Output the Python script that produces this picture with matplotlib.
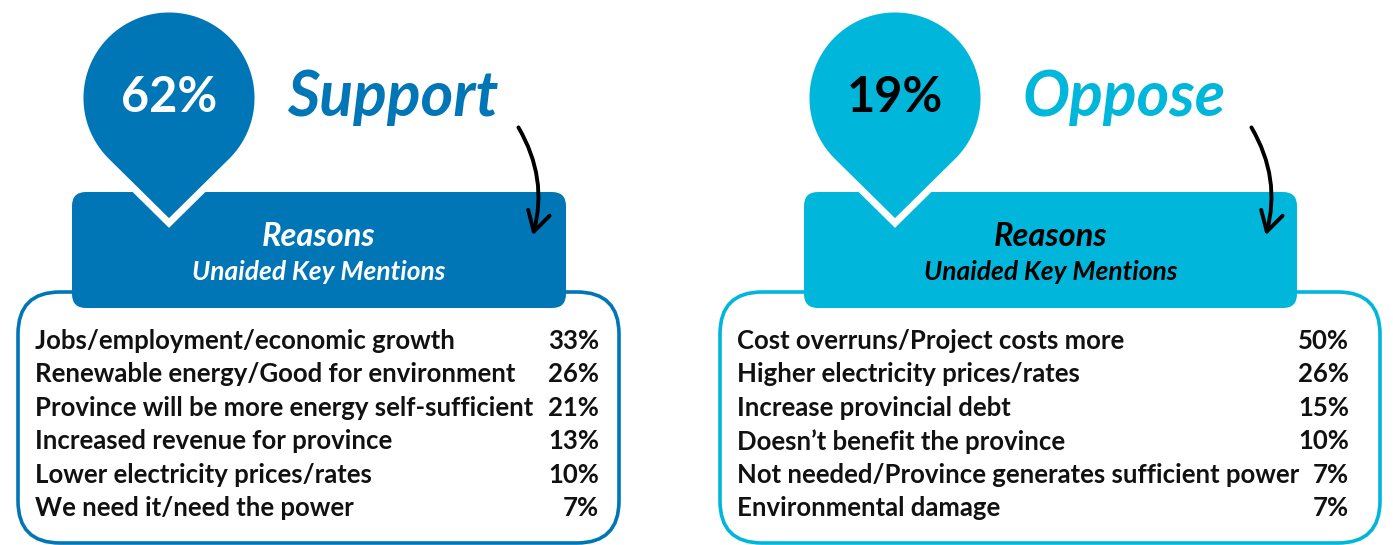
import numpy as np
import matplotlib.pyplot as plt
from matplotlib.patches import FancyBboxPatch, Polygon, FancyArrowPatch

# data
support_share = "62%"
oppose_share = "19%"
support_reasons = ["Jobs/employment/economic growth",
                   "Renewable energy/Good for environment",
                   "Province will be more energy self-sufficient",
                   "Increased revenue for province",
                   "Lower electricity prices/rates",
                   "We need it/need the power"]
support_pcts = [33, 26, 21, 13, 10, 7]
oppose_reasons = ["Cost overruns/Project costs more",
                  "Higher electricity prices/rates",
                  "Increase provincial debt",
                  "Doesn\u2019t benefit the province",
                  "Not needed/Province generates sufficient power",
                  "Environmental damage"]
oppose_pcts = [50, 26, 15, 10, 7, 7]

BLUE = "#0076b6"
CYAN = "#00b6da"
FONT = "Lato"

fig = plt.figure(figsize=(13.93, 5.45), dpi=100)
ax = fig.add_axes([0, 0, 1, 1])
ax.set_xlim(0, 1393)
ax.set_ylim(545, 0)
ax.axis("off")


def pin(cx, cy, r, tipy, color):
    d = tipy - cy
    a = np.degrees(np.arccos(r / d))
    t = np.radians(np.linspace(90 + a, 450 - a, 120))
    pts = np.column_stack([cx + r * np.cos(t), cy + r * np.sin(t)])
    pts = np.vstack([pts, [cx, tipy]])
    ax.add_patch(Polygon(pts, closed=True, fc=color, ec="white", lw=5, zorder=4, joinstyle="miter"))


def panel(x0, x1, rx0, rx1, pcx, color, share, share_col, title, title_x, head_col,
          reasons, pcts, pct_x, arr_a, arr_b):
    # outer rounded box
    ax.add_patch(FancyBboxPatch((x0 + 20, 312), x1 - x0 - 40, 211,
                                boxstyle="round,pad=20,rounding_size=42",
                                fc="white", ec=color, lw=2.6, zorder=1))
    # header box
    ax.add_patch(FancyBboxPatch((rx0 + 12, 204), rx1 - rx0 - 24, 92,
                                boxstyle="round,pad=12,rounding_size=14",
                                fc=color, ec="none", zorder=2))
    pin(pcx, 98, 89, 223, color)
    ax.text(pcx, 98, share, ha="center", va="center", fontsize=35, fontweight="bold",
            color=share_col, family=FONT, zorder=5)
    ax.text(title_x, 97, title, ha="left", va="center", fontsize=45, fontweight="bold",
            style="italic", color=color, family=FONT, zorder=5)
    mid = (rx0 + rx1) / 2
    ax.text(mid, 236, "Reasons", ha="center", va="center", fontsize=23.5, fontweight="bold",
            style="italic", color=head_col, family=FONT, zorder=5)
    ax.text(mid, 272, "Unaided Key Mentions", ha="center", va="center", fontsize=19,
            fontweight="bold", style="italic", color=head_col, family=FONT, zorder=5)
    ax.add_patch(FancyArrowPatch(arr_a, arr_b, connectionstyle="arc3,rad=-0.22",
                                 arrowstyle="->,head_length=14,head_width=8",
                                 color="black", lw=2.8, zorder=5))
    for i, (lab, p) in enumerate(zip(reasons, pcts)):
        y = 341 + i * 33.4
        ax.text(x0 + 17, y, lab, ha="left", va="center", fontsize=18.5, fontweight="bold",
                color="#111111", family=FONT, zorder=5)
        ax.text(pct_x, y, f"{p}%", ha="right", va="center", fontsize=18.5, fontweight="bold",
                color="#111111", family=FONT, zorder=5)


panel(18, 619, 72, 566, 169, BLUE, support_share, "white", "Support", 287, "white",
      support_reasons, support_pcts, 599, (517, 125), (532, 238))
panel(720, 1380, 804, 1297, 895, CYAN, oppose_share, "black", "Oppose", 1022, "black",
      oppose_reasons, oppose_pcts, 1349, (1250, 125), (1265, 238))

fig.savefig("out.png", dpi=100)
